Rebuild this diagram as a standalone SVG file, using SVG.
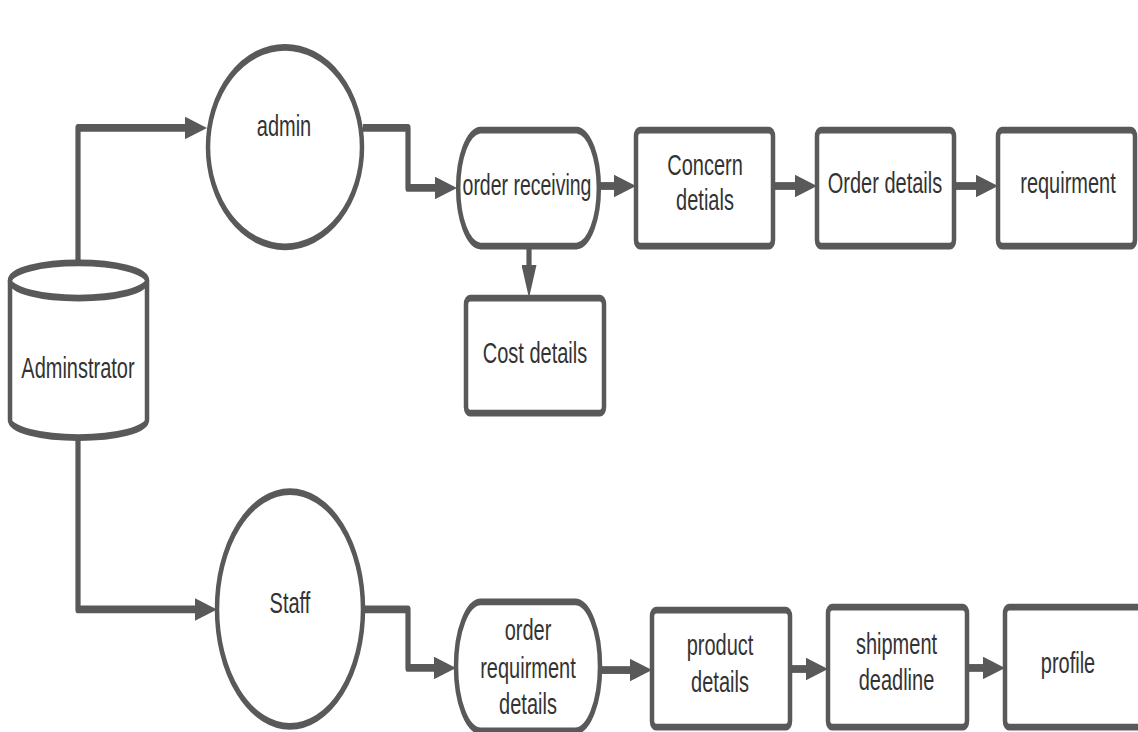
<svg xmlns="http://www.w3.org/2000/svg" width="1138" height="732" viewBox="0 0 1138 732">
<defs>
<style>
.shape{fill:#fff;stroke:#595959;stroke-width:4.5;}
.conn{fill:none;stroke:#595959;stroke-width:5.2;stroke-linejoin:round;}
.lbl{font-family:"Liberation Sans",Arial,sans-serif;font-size:20px;fill:#333;text-anchor:middle;}
</style>
<marker id="arr" markerUnits="userSpaceOnUse" viewBox="0 0 22 15" markerWidth="22" markerHeight="15" refX="2" refY="7.5" orient="auto">
<path d="M0,0 L22,7.5 L0,15 Z" fill="#595959"/>
</marker>
</defs>
<rect width="1138" height="732" fill="#fff"/>
<g transform="scale(1,1.5)">
<g id="connectors">
<path class="conn" d="M78,176 V85.3 H187" marker-end="url(#arr)"/>
<path class="conn" d="M363,85.3 H408 V125.3 H437" marker-end="url(#arr)"/>
<path class="conn" d="M600,124 H616" marker-end="url(#arr)"/>
<path class="conn" d="M773,124 H797" marker-end="url(#arr)"/>
<path class="conn" d="M954,124 H978" marker-end="url(#arr)"/>
<path class="conn" d="M529,164 V178.7" marker-end="url(#arr)"/>
<path class="conn" d="M78,291 V406.3 H197" marker-end="url(#arr)"/>
<path class="conn" d="M363,406.3 H408 V445.3 H436" marker-end="url(#arr)"/>
<path class="conn" d="M600,446.7 H632" marker-end="url(#arr)"/>
<path class="conn" d="M790,446 H808" marker-end="url(#arr)"/>
<path class="conn" d="M967,445.3 H985" marker-end="url(#arr)"/>
</g>
<g id="adminstrator">
<path class="shape" d="M10,187 L10,280 A68.5,11.7 0 0 0 147,280 L147,187"/>
<ellipse class="shape" cx="78.5" cy="187" rx="68.5" ry="11.7"/>
<text class="lbl" x="78" y="252">Adminstrator</text>
</g>
<g id="admin">
<ellipse class="shape" cx="285" cy="98" rx="77" ry="66.5"/>
<text class="lbl" x="284" y="91">admin</text>
</g>
<g id="order-receiving">
<path class="shape" d="M480,86.7 H577 A23,38.7 0 0 1 577,164 H480 A23,38.7 0 0 1 480,86.7 Z"/>
<text class="lbl" x="527" y="130" style="font-size:19.5px">order receiving</text>
</g>
<g id="concern-detials">
<rect class="shape" x="636" y="86.7" width="137" height="77.3" rx="4"/>
<text class="lbl" x="705" y="117">Concern</text>
<text class="lbl" x="705" y="140.3">detials</text>
</g>
<g id="order-details">
<rect class="shape" x="817" y="86.7" width="137" height="77.3" rx="4"/>
<text class="lbl" x="885" y="129">Order details</text>
</g>
<g id="requirment">
<rect class="shape" x="998" y="86.7" width="137" height="77.3" rx="4"/>
<text class="lbl" x="1068" y="129">requirment</text>
</g>
<g id="cost-details">
<rect class="shape" x="466" y="198.7" width="138" height="76.7" rx="4"/>
<text class="lbl" x="535" y="241.7">Cost details</text>
</g>
<g id="staff">
<ellipse class="shape" cx="290" cy="406" rx="73" ry="78.3"/>
<text class="lbl" x="290" y="409">Staff</text>
</g>
<g id="order-requirment-details">
<path class="shape" d="M481,401.3 H575 A25,43 0 0 1 575,487.3 H481 A25,43 0 0 1 481,401.3 Z"/>
<text class="lbl" x="528" y="427">order</text>
<text class="lbl" x="528" y="451.7">requirment</text>
<text class="lbl" x="528" y="475.7">details</text>
</g>
<g id="product-details">
<rect class="shape" x="652" y="406.7" width="138" height="78" rx="4"/>
<text class="lbl" x="720" y="437">product</text>
<text class="lbl" x="720" y="461.4">details</text>
</g>
<g id="shipment-deadline">
<rect class="shape" x="828" y="404.7" width="139" height="80" rx="4"/>
<text class="lbl" x="896.5" y="435.7">shipment</text>
<text class="lbl" x="896.5" y="460.3">deadline</text>
</g>
<g id="profile">
<rect class="shape" x="1005" y="404.7" width="145" height="80" rx="4"/>
<text class="lbl" x="1068" y="449">profile</text>
</g>
</g>
</svg>
